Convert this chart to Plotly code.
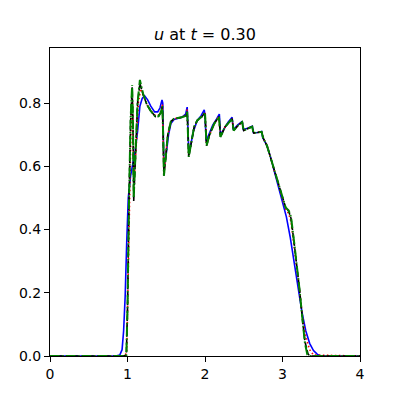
import plotly.graph_objects as go

# values
blue_x = [0, 0.85, 0.9, 0.93, 0.95, 0.97, 0.99, 1.01, 1.04, 1.07, 1.1, 1.13, 1.16, 1.19, 1.22,
          1.26, 1.3, 1.35, 1.39, 1.42, 1.445, 1.455, 1.46, 1.47, 1.5, 1.53, 1.56, 1.6, 1.7, 1.75,
          1.77, 1.78, 1.79, 1.81, 1.85, 1.9, 1.95, 1.99, 2.0, 2.015, 2.05, 2.1, 2.15, 2.185, 2.2,
          2.25, 2.3, 2.35, 2.365, 2.42, 2.48, 2.495, 2.55, 2.61, 2.625, 2.68, 2.73, 2.745, 2.8,
          2.85, 2.9, 2.95, 3.0, 3.05, 3.1, 3.15, 3.2, 3.25, 3.3, 3.35, 3.4, 3.45, 3.5, 4.0]
blue_y = [0, 0, 0.003, 0.02, 0.08, 0.19, 0.36, 0.5, 0.57, 0.61, 0.65, 0.71, 0.79, 0.815, 0.823,
          0.81, 0.79, 0.772, 0.772, 0.785, 0.81, 0.8, 0.62, 0.59, 0.64, 0.7, 0.735, 0.748, 0.755, 0.765,
          0.787, 0.74, 0.65, 0.66, 0.71, 0.745, 0.76, 0.778, 0.76, 0.68, 0.7, 0.73, 0.75, 0.765, 0.7,
          0.72, 0.74, 0.755, 0.715, 0.73, 0.742, 0.716, 0.72, 0.727, 0.706, 0.707, 0.71, 0.69, 0.665,
          0.625, 0.58, 0.535, 0.49, 0.44, 0.375, 0.3, 0.22, 0.14, 0.08, 0.04, 0.017, 0.005, 0, 0]

red_x = [0, 0.96, 0.99, 1.005, 1.025, 1.045, 1.065, 1.075, 1.085, 1.11, 1.14, 1.17, 1.21, 1.25,
         1.3, 1.36, 1.4, 1.43, 1.45, 1.46, 1.47, 1.49, 1.52, 1.56, 1.6, 1.7, 1.76, 1.77, 1.78, 1.79,
         1.82, 1.86, 1.9, 1.96, 2.0, 2.01, 2.02, 2.06, 2.12, 2.18, 2.19, 2.2, 2.26, 2.35, 2.36, 2.37,
         2.43, 2.48, 2.49, 2.5, 2.56, 2.61, 2.62, 2.63, 2.68, 2.73, 2.74, 2.75, 2.8, 2.85, 2.9, 2.95,
         3.0, 3.04, 3.08, 3.11, 3.15, 3.18, 3.22, 3.26, 3.3, 3.35, 3.4, 4.0]
red_y = [0, 0, 0.01, 0.18, 0.5, 0.72, 0.8, 0.7, 0.56, 0.65, 0.8, 0.845, 0.82, 0.795,
         0.776, 0.76, 0.762, 0.775, 0.795, 0.7, 0.575, 0.625, 0.7, 0.74, 0.75, 0.755, 0.762, 0.78, 0.68, 0.635,
         0.67, 0.722, 0.745, 0.758, 0.772, 0.7, 0.668, 0.7, 0.735, 0.758, 0.72, 0.695, 0.725, 0.75, 0.73, 0.714,
         0.73, 0.74, 0.724, 0.714, 0.72, 0.725, 0.71, 0.705, 0.707, 0.709, 0.699, 0.69, 0.665, 0.625, 0.583, 0.542,
         0.498, 0.465, 0.45, 0.425, 0.35, 0.29, 0.205, 0.12, 0.06, 0.02, 0.003, 0]

black_x = [0, 0.95, 0.985, 1.0, 1.02, 1.04, 1.06, 1.07, 1.08, 1.1, 1.13, 1.16, 1.2, 1.25, 1.3,
           1.36, 1.4, 1.43, 1.45, 1.46, 1.47, 1.49, 1.52, 1.56, 1.6, 1.7, 1.76, 1.77, 1.78, 1.79,
           1.82, 1.86, 1.9, 1.96, 2.0, 2.01, 2.02, 2.06, 2.12, 2.18, 2.19, 2.2, 2.26, 2.35, 2.36, 2.37,
           2.43, 2.48, 2.49, 2.5, 2.56, 2.61, 2.62, 2.63, 2.68, 2.73, 2.74, 2.75, 2.8, 2.85, 2.9, 2.95,
           3.0, 3.04, 3.08, 3.11, 3.15, 3.18, 3.22, 3.26, 3.29, 3.33, 3.36, 4.0]
black_y = [0, 0, 0.003, 0.15, 0.5, 0.74, 0.85, 0.74, 0.49, 0.61, 0.8, 0.862, 0.828, 0.795, 0.775,
           0.757, 0.758, 0.77, 0.79, 0.7, 0.57, 0.62, 0.7, 0.742, 0.75, 0.755, 0.76, 0.775, 0.68, 0.63,
           0.67, 0.725, 0.745, 0.757, 0.77, 0.7, 0.665, 0.7, 0.735, 0.757, 0.72, 0.693, 0.725, 0.75, 0.73, 0.713,
           0.73, 0.74, 0.725, 0.713, 0.72, 0.725, 0.712, 0.705, 0.707, 0.709, 0.7, 0.69, 0.665, 0.625, 0.585, 0.545,
           0.5, 0.47, 0.458, 0.435, 0.358, 0.3, 0.21, 0.11, 0.045, 0.006, 0, 0]

green_x = [0, 0.95, 0.985, 1.0, 1.02, 1.04, 1.06, 1.07, 1.08, 1.1, 1.13, 1.16, 1.2, 1.25, 1.3,
           1.36, 1.4, 1.43, 1.45, 1.46, 1.47, 1.49, 1.52, 1.56, 1.6, 1.7, 1.76, 1.77, 1.78, 1.79,
           1.82, 1.86, 1.9, 1.96, 2.0, 2.01, 2.02, 2.06, 2.12, 2.18, 2.19, 2.2, 2.26, 2.35, 2.36, 2.37,
           2.43, 2.48, 2.49, 2.5, 2.56, 2.61, 2.62, 2.63, 2.68, 2.73, 2.74, 2.75, 2.8, 2.85, 2.9, 2.95,
           3.0, 3.04, 3.08, 3.11, 3.15, 3.18, 3.22, 3.26, 3.29, 3.32, 3.35, 4.0]
green_y = [0, 0, 0.003, 0.15, 0.5, 0.75, 0.857, 0.75, 0.5, 0.62, 0.8, 0.873, 0.83, 0.795, 0.775,
           0.757, 0.758, 0.77, 0.79, 0.7, 0.57, 0.62, 0.7, 0.742, 0.75, 0.755, 0.76, 0.775, 0.68, 0.63,
           0.67, 0.725, 0.745, 0.757, 0.77, 0.7, 0.665, 0.7, 0.735, 0.757, 0.72, 0.693, 0.725, 0.75, 0.73, 0.713,
           0.73, 0.74, 0.725, 0.713, 0.72, 0.725, 0.712, 0.705, 0.707, 0.709, 0.7, 0.69, 0.665, 0.625, 0.585, 0.545,
           0.5, 0.47, 0.46, 0.44, 0.36, 0.3, 0.21, 0.11, 0.04, 0.005, 0, 0]

x_ticks = [0, 1, 2, 3, 4]
y_ticks = [0.0, 0.2, 0.4, 0.6, 0.8]

series = [
    (blue_x, blue_y, "#0000ff", "solid", 1.6),
    (red_x, red_y, "#ff0000", "1.5px,2.5px", 1.6),
    (black_x, black_y, "#000000", "5.5px,2.4px", 1.6),
    (green_x, green_y, "#008000", "9.6px,2.4px,1.5px,2.4px", 2),
]

fig = go.Figure()
for xs, ys, color, dash, width in series:
    fig.add_trace(go.Scatter(
        x=xs, y=ys, mode="lines",
        line=dict(color=color, dash=dash, width=width),
        showlegend=False,
    ))

axis_style = dict(
    showline=True, linecolor="black", linewidth=1, mirror=True,
    ticks="outside", ticklen=5, tickwidth=1, tickcolor="black",
    showgrid=False, zeroline=False,
    tickfont=dict(family="DejaVu Sans", size=14, color="black"),
)

fig.update_xaxes(range=[0, 4], tickvals=x_ticks, ticktext=[str(t) for t in x_ticks], **axis_style)
fig.update_yaxes(range=[0, 0.974], tickvals=y_ticks, ticktext=[f"{t:.1f}" for t in y_ticks], **axis_style)

# page body has an 8px margin, so the figure is 392 wide/high
fig.update_layout(
    width=392, height=392,
    margin=dict(l=42, r=40, t=40, b=44),
    plot_bgcolor="white", paper_bgcolor="white",
    title=dict(
        text="<i>u</i> at <i>t</i> = 0.30",
        x=0.5026, xanchor="center", xref="container",
        y=0.9337, yanchor="middle", yref="container",
        font=dict(family="DejaVu Sans", size=16, color="black"),
    ),
)

fig.write_html("out.html")
